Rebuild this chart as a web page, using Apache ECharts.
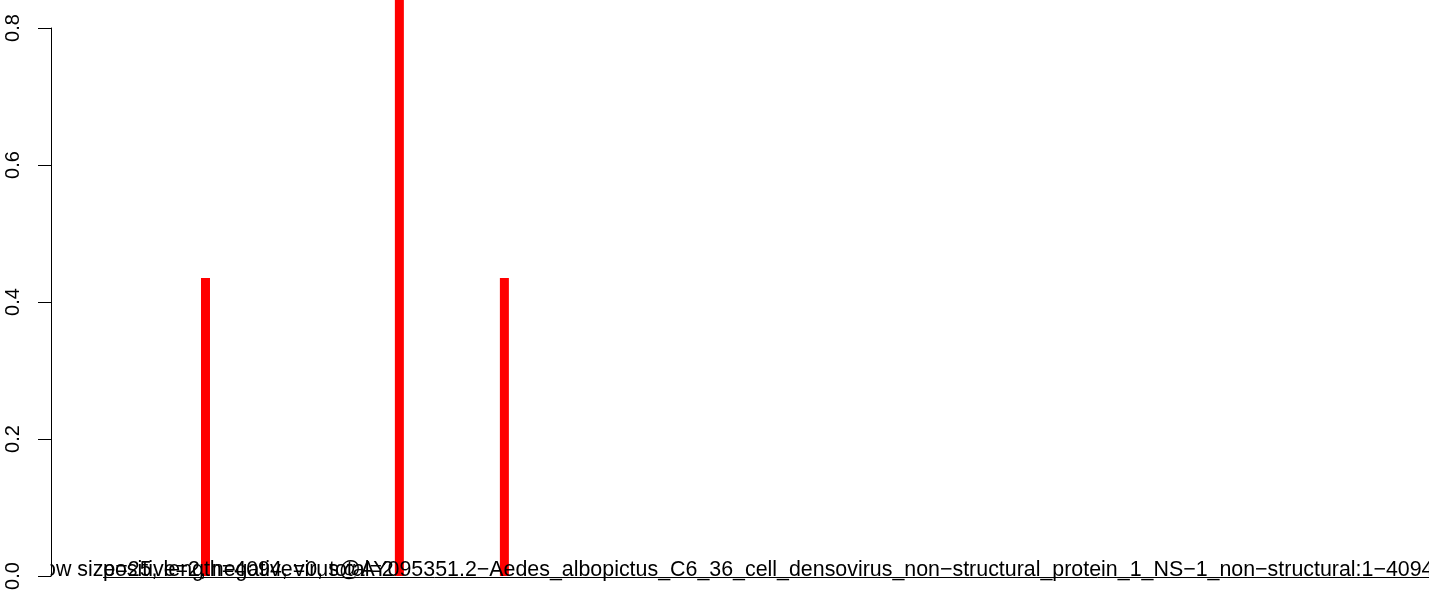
<!DOCTYPE html>
<html>
<head>
<meta charset="utf-8">
<script src="https://cdn.jsdelivr.net/npm/echarts@6/dist/echarts.min.js"></script>
<style>
html,body{margin:0;padding:0;background:#fff;}
#c{width:1429px;height:598px;}
</style>
</head>
<body>
<div id="c"></div>
<script>
// ---- data ----
const positions = [459, 1035, 1347];          // genome positions of the windows
const values = [0.435, 0.87, 0.435];           // bar heights
const yTicks = [0, 0.2, 0.4, 0.6, 0.8];        // y tick values
const seqLength = 4094;
const mainText = "window size=25, length=4094, virus@AY095351.2\u2212Aedes_albopictus_C6_36_cell_densovirus_non\u2212structural_protein_1_NS\u22121_non\u2212structural:1\u22124094";
const countText = "positive=2, negative=0, total=2";

const chart = echarts.init(document.getElementById('c'), null, {renderer: 'canvas'});
const FONT = "'Liberation Sans', Arial, Helvetica, sans-serif";

const option = {
  animation: false,
  backgroundColor: '#ffffff',
  grid: [
    {left: 51, right: 0, top: 0, bottom: 22, containLabel: false},
    {left: 51, right: 0, top: 28, bottom: 22, containLabel: false}
  ],
  xAxis: [
    {type: 'value', gridIndex: 0, min: 0, max: seqLength, show: false},
    {type: 'value', gridIndex: 1, min: 0, max: seqLength, show: false}
  ],
  yAxis: [
    {type: 'value', gridIndex: 0, min: 0, max: 576 / 685, show: false},
    {
      type: 'value', gridIndex: 1, min: yTicks[0], max: yTicks[yTicks.length - 1],
      interval: 0.2, z: 20,
      axisLine: {show: true, lineStyle: {color: '#000', width: 1}},
      axisTick: {show: true, inside: false, length: 13, lineStyle: {color: '#000', width: 1}},
      splitLine: {show: false},
      axisLabel: {
        show: true, rotate: 90, margin: 28, color: '#000',
        fontFamily: FONT, fontSize: 20,
        formatter: v => v.toFixed(1)
      }
    }
  ],
  series: [
    {
      type: 'bar',
      xAxisIndex: 0, yAxisIndex: 0,
      barWidth: 9,
      clip: true,
      itemStyle: {color: '#ff0000'},
      data: positions.map((p, i) => [p, values[i]])
    }
  ],
  graphic: [
    {
      type: 'text', z: 5, left: 0, top: 560,
      style: {text: mainText, fill: '#000', font: '21.4px ' + FONT}
    },
    {
      type: 'text', z: 5, left: 103, top: 560,
      style: {text: countText, fill: '#000', font: '21.4px ' + FONT}
    },
    {
      type: 'line', z: 5,
      shape: {x1: 103, y1: 577.5, x2: 1429, y2: 577.5},
      style: {stroke: '#000', lineWidth: 1}
    },
    {
      type: 'rect', z: 6,
      shape: {x: 0, y: 555, width: 50.5, height: 43},
      style: {fill: '#fff'}
    }
  ]
};
chart.setOption(option);
</script>
</body>
</html>
